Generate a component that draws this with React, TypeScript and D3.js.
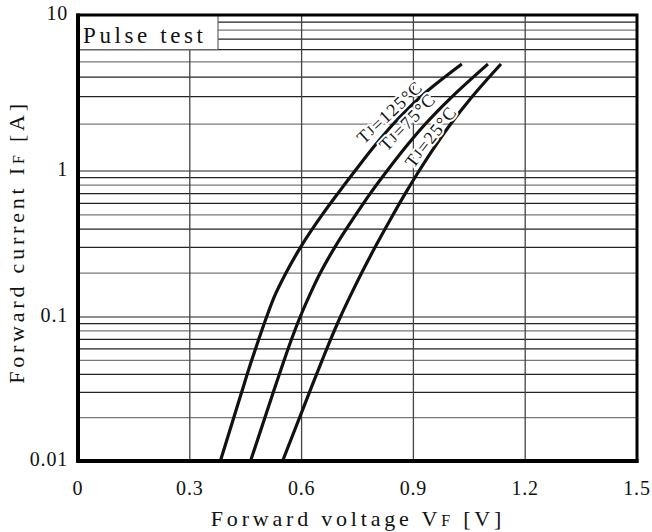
import React from 'react';
import * as d3 from 'd3';

// Forward current IF [A] sample points (shared by the three curves)
const currents = [0.01, 0.03, 0.05, 0.07, 0.1, 0.14, 0.2, 0.3, 0.5, 0.7, 1, 1.5, 2, 3, 4.85];
// Forward voltage VF [V] for each junction temperature
const vf125 = [0.382, 0.439, 0.466, 0.485, 0.506, 0.528, 0.558, 0.597, 0.655, 0.697, 0.743, 0.801, 0.846, 0.92, 1.03];
const vf75 = [0.463, 0.524, 0.553, 0.573, 0.596, 0.621, 0.65, 0.689, 0.745, 0.784, 0.829, 0.887, 0.932, 1.004, 1.1];
const vf25 = [0.549, 0.621, 0.655, 0.678, 0.704, 0.731, 0.761, 0.797, 0.845, 0.878, 0.915, 0.963, 1.0, 1.058, 1.135];

const seriesTemps = ['125', '75', '25'];
// where each temperature label sits (VF, IF) and its slant
const labelV = [0.84, 0.888, 0.951];
const labelI = [2.33, 2.02, 1.63];
const labelAngle = [-43, -46, -52];

const xTicks = [0, 0.3, 0.6, 0.9, 1.2, 1.5];
const xTickLabels = ['0', '0.3', '0.6', '0.9', '1.2', '1.5'];
const yTicks = [0.01, 0.1, 1, 10];
const yTickLabels = ['0.01', '0.1', '1', '10'];

const W = 652;
const H = 532;
const FONT = '"Liberation Serif", "Times New Roman", serif';

const App: React.FC = () => {
  const left = 78, right = 637, top = 15, bottom = 461;

  const x = d3.scaleLinear().domain([0, 1.5]).range([left, right]);
  // the printed grid is not perfectly even per decade, so use a piecewise log scale
  const y = d3.scaleLog().domain([0.01, 0.1, 1, 10]).range([bottom, 317, 171, top]);

  // minor grid lines 1..9 in each decade
  const gridY: number[] = [];
  [0.01, 0.1, 1].forEach(dec => {
    for (let k = 1; k <= 9; k++) gridY.push(dec * k);
  });
  gridY.push(10);

  // monotone in screen y: feed points from the top down
  const line = d3.line<[number, number]>()
    .x(d => x(d[0]))
    .y(d => y(d[1]))
    .curve(d3.curveMonotoneY);

  const series = [vf125, vf75, vf25].map(vs =>
    vs.map((v, i) => [v, currents[i]] as [number, number]).reverse());

  return (
    <svg width={W} height={H} style={{ position: 'absolute', left: 0, top: 0, background: '#fff' }}>
      <rect x={0} y={0} width={W} height={H} fill="#fff" />

      {/* horizontal grid */}
      {gridY.map((v, i) => (
        <line key={'gy' + i} x1={left} x2={right} y1={y(v)} y2={y(v)}
          stroke={i % 3 === 1 ? '#777' : '#222'} strokeWidth={1.2} />
      ))}
      {/* vertical grid */}
      {xTicks.slice(1, -1).map(v => (
        <line key={'gx' + v} x1={x(v)} x2={x(v)} y1={top} y2={bottom} stroke="#444" strokeWidth={1.3} />
      ))}

      {/* Pulse test box */}
      <rect x={left} y={top} width={218 - left} height={y(6) - top} fill="#fff" />
      <line x1={218} x2={218} y1={top} y2={y(6)} stroke="#666" strokeWidth={1.2} />
      <line x1={left} x2={218} y1={y(6)} y2={y(6)} stroke="#666" strokeWidth={1.2} />
      <text x={83} y={top + 28} fontFamily={FONT} fontSize={23} letterSpacing={3.6} fill="#111">
        Pulse test
      </text>

      {/* curves */}
      {series.map((pts, i) => (
        <path key={'c' + i} d={line(pts) || ''} fill="none" stroke="#111" strokeWidth={3.2} strokeLinecap="butt" />
      ))}

      {/* curve labels */}
      {seriesTemps.map((t, i) => (
        <text key={'l' + i}
          transform={`translate(${x(labelV[i])},${y(labelI[i])}) rotate(${labelAngle[i]})`}
          textAnchor="middle" dominantBaseline="middle"
          fontFamily={FONT} fontSize={18} letterSpacing={1.2} fill="#111"
          stroke="#fff" strokeWidth={4} paintOrder="stroke" strokeLinejoin="round">
          T<tspan fontSize={14}>J</tspan>={t}°C
        </text>
      ))}

      {/* frame */}
      <rect x={left} y={top} width={right - left} height={bottom - top} fill="none" stroke="#000" strokeWidth={3} />
      <line x1={left} x2={left} y1={top - 1.5} y2={bottom + 1.5} stroke="#000" strokeWidth={4} />
      <line x1={left - 1.5} x2={right + 1.5} y1={bottom} y2={bottom} stroke="#000" strokeWidth={4} />

      {/* x ticks */}
      {xTicks.map((v, i) => (
        <text key={'xt' + i} x={x(v)} y={495} textAnchor="middle" fontFamily={FONT} fontSize={20}
          letterSpacing={0.8} fill="#111">
          {xTickLabels[i]}
        </text>
      ))}
      {/* y ticks */}
      {yTicks.map((v, i) => (
        <text key={'yt' + i} x={68} y={y(v)} textAnchor="end" dominantBaseline="middle"
          fontFamily={FONT} fontSize={20} letterSpacing={0.8} fill="#111">
          {yTickLabels[i]}
        </text>
      ))}

      {/* axis titles */}
      <text x={358} y={526} textAnchor="middle" fontFamily={FONT} fontSize={22} letterSpacing={3.8} fill="#111">
        Forward voltage V<tspan fontSize={16}>F</tspan> [V]
      </text>
      <text transform={`translate(24,${242}) rotate(-90)`} textAnchor="middle" fontFamily={FONT}
        fontSize={22} letterSpacing={3.8} fill="#111">
        Forward current I<tspan fontSize={16}>F</tspan> [A]
      </text>
    </svg>
  );
};

export default App;
